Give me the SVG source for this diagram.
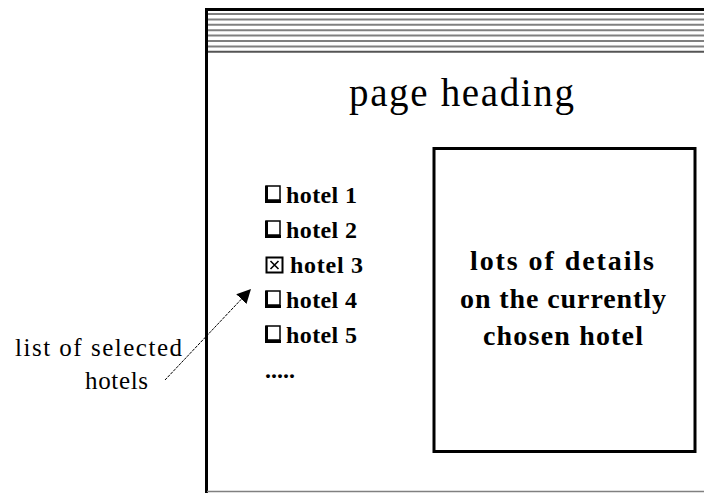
<svg xmlns="http://www.w3.org/2000/svg" width="704" height="493" viewBox="0 0 704 493">
  <style>
    .frame { fill: none; stroke: #000; stroke-width: 3; }
    .stripe { stroke: #808080; stroke-width: 2; }
    .heading { font-family: "Liberation Serif", "Times New Roman", serif; font-size: 39px; fill: #000; }
    .item { font-family: "Liberation Serif", "Times New Roman", serif; font-size: 24px; font-weight: bold; fill: #000; }
    .detail { font-family: "Liberation Serif", "Times New Roman", serif; font-size: 28px; font-weight: bold; fill: #000; }
    .label { font-family: "Liberation Serif", "Times New Roman", serif; font-size: 25px; fill: #000; }
    .box { fill: #fff; stroke: #000; stroke-width: 1.5; }
    .shadow { fill: none; stroke: #000; stroke-width: 3; }
    .conn { fill: none; stroke: #000; stroke-width: 1; stroke-dasharray: 3 1; }
  </style>
  <defs>
    <marker id="arrow" viewBox="0 0 10 10" refX="9" refY="5" markerWidth="14" markerHeight="14" markerUnits="userSpaceOnUse" orient="auto">
      <path d="M0,0 L10,5 L0,10 z" fill="#000"/>
    </marker>
    <g id="cb">
      <rect class="box" x="0" y="0" width="14" height="14"/>
      <path class="shadow" d="M0.5,0 V15.5 H15"/>
    </g>
  </defs>

  <rect width="704" height="493" fill="#fff"/>

  <!-- browser window frame with striped title bar -->
  <g id="window">
    <g>
      <line class="stripe" x1="207" y1="14" x2="704" y2="14"/>
      <line class="stripe" x1="207" y1="19.4" x2="704" y2="19.4"/>
      <line class="stripe" x1="207" y1="24.8" x2="704" y2="24.8"/>
      <line class="stripe" x1="207" y1="30.2" x2="704" y2="30.2"/>
      <line class="stripe" x1="207" y1="35.6" x2="704" y2="35.6"/>
      <line class="stripe" x1="207" y1="41" x2="704" y2="41"/>
      <line class="stripe" x1="207" y1="46.4" x2="704" y2="46.4"/>
      <line x1="207" y1="51.8" x2="704" y2="51.8" stroke="#555" stroke-width="2"/>
    </g>
    <path class="frame" d="M706,9.5 H206.5 V493"/>
    <line x1="207" y1="491.5" x2="704" y2="491.5" stroke="#808080" stroke-width="1.5"/>
  </g>

  <g id="heading">
    <text class="heading" x="349" y="106" textLength="225" lengthAdjust="spacing">page heading</text>
  </g>

  <!-- list of hotels with check boxes -->
  <g id="hotel-list">
    <use href="#cb" x="266" y="186"/>
    <text class="item" x="286" y="203" textLength="71" lengthAdjust="spacing">hotel 1</text>
    <use href="#cb" x="266" y="221"/>
    <text class="item" x="286" y="238" textLength="71" lengthAdjust="spacing">hotel 2</text>
    <g>
      <rect x="266.5" y="257.5" width="16" height="15" fill="#fff" stroke="#000" stroke-width="2"/>
      <path d="M270.5,261 L278.5,269 M278.5,261 L270.5,269" stroke="#000" stroke-width="1.6"/>
    </g>
    <text class="item" x="290" y="273" textLength="73" lengthAdjust="spacing">hotel 3</text>
    <use href="#cb" x="266" y="291"/>
    <text class="item" x="286" y="308" textLength="71" lengthAdjust="spacing">hotel 4</text>
    <use href="#cb" x="266" y="326"/>
    <text class="item" x="286" y="343" textLength="71" lengthAdjust="spacing">hotel 5</text>
    <text class="item" x="265" y="378">.....</text>
  </g>

  <!-- detail panel -->
  <g id="details">
    <rect class="frame" x="434" y="148.5" width="261" height="303"/>
    <text class="detail" x="470" y="270" textLength="184" lengthAdjust="spacing">lots  of details</text>
    <text class="detail" x="460" y="308" textLength="206" lengthAdjust="spacing">on the currently</text>
    <text class="detail" x="483" y="345" textLength="160" lengthAdjust="spacing">chosen hotel</text>
  </g>

  <g id="annotation">
    <text class="label" x="15" y="356" textLength="167" lengthAdjust="spacing">list of selected</text>
    <text class="label" x="85" y="389" textLength="63" lengthAdjust="spacing">hotels</text>
  </g>

  <g id="connectors">
    <line class="conn" x1="165" y1="380" x2="250" y2="290" marker-end="url(#arrow)"/>
  </g>
</svg>
